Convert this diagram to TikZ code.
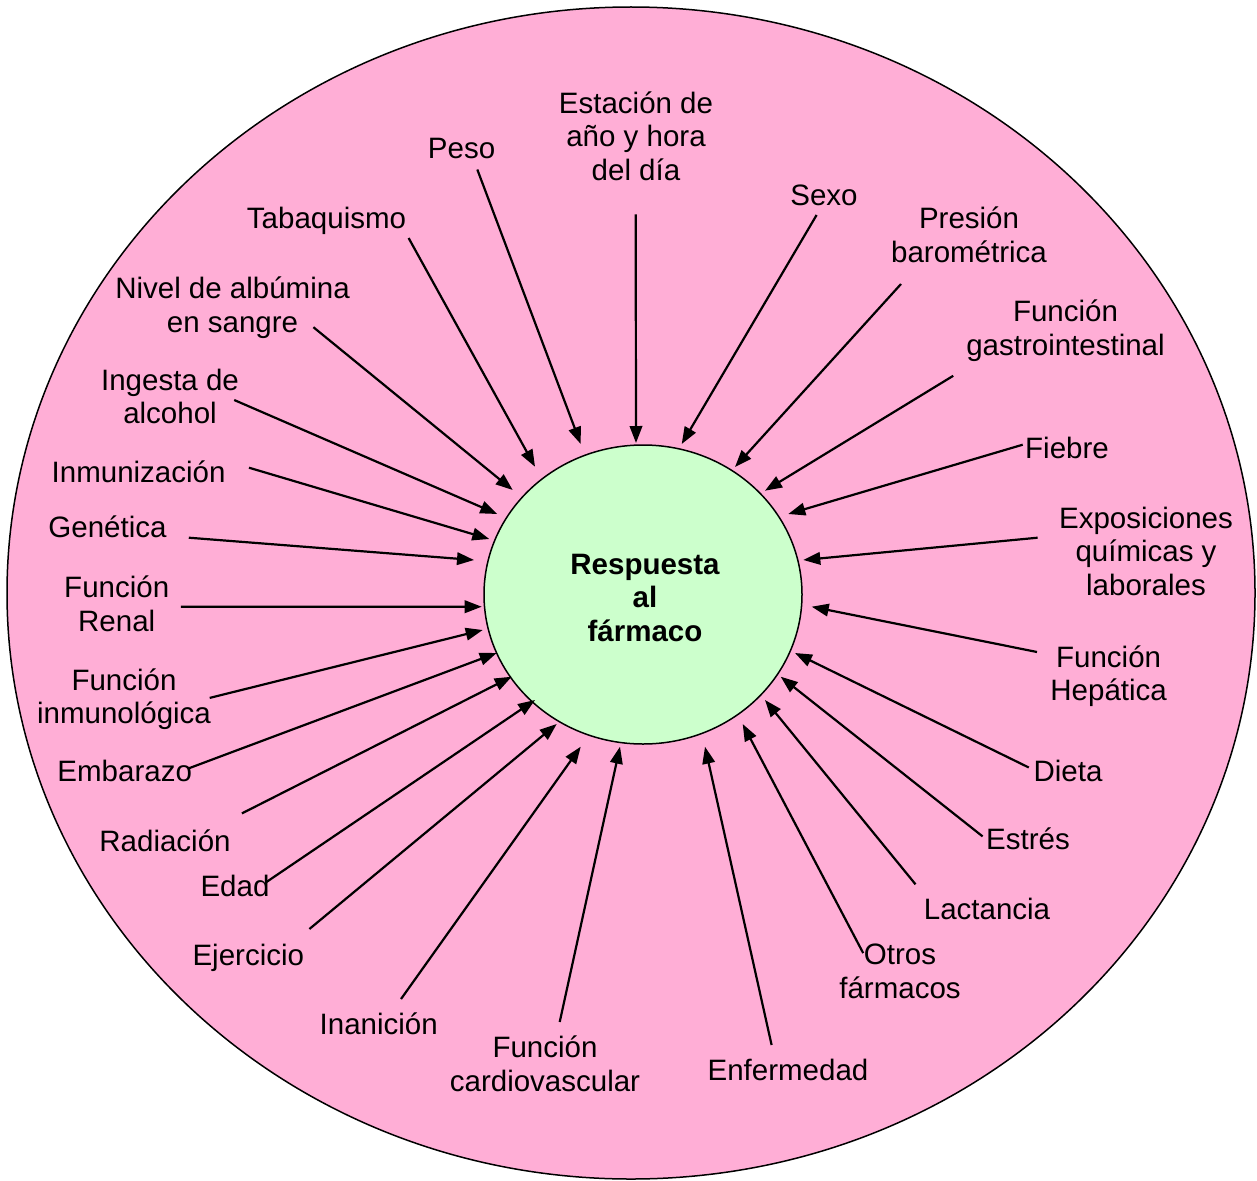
\documentclass[tikz,border=0pt]{standalone}
\usepackage{fontspec}
\setmainfont{Liberation Sans}
\usetikzlibrary{arrows.meta,shapes.geometric}
\definecolor{pinkbg}{RGB}{255,174,214}
\definecolor{greenc}{RGB}{204,255,204}
\begin{document}
\begin{tikzpicture}[x=1pt,y=-1pt,
  lab/.style={font=\fontsize{29.5}{33.5}\selectfont, align=center, anchor=base, inner sep=0pt},
  arr/.style={line width=2.2pt, -{Triangle[length=17pt,width=12.5pt]}},
  ring/.style={ellipse, draw, line width=1.5pt, inner sep=0pt}]
\useasboundingbox (0,0) rectangle (1257,1180);
\node[ring, fill=pinkbg, minimum width=1248pt, minimum height=1172pt] (outer) at (631,593) {};
\node[ring, fill=greenc, minimum width=318pt, minimum height=299pt] (resp) at (643,594.5) {};
% multi-line nodes: the base anchor lies on the last line
\node[lab, font=\fontsize{29.5}{33.5}\selectfont\bfseries] (resptext) at (645,641) {Respuesta\\al\\fármaco};

% labels
\node[lab] (estacion) at (636,180.3) {Estación de\\año y hora\\del día};
\node[lab] (peso) at (461.6,158.8) {Peso};
\node[lab] (tabaco) at (326.5,228.9) {Tabaquismo};
\node[lab] (albumina) at (232.5,332) {Nivel de albúmina\\en sangre};
\node[lab] (alcohol) at (170,423.5) {Ingesta de\\alcohol};
\node[lab] (inmuniz) at (138.6,482) {Inmunización};
\node[lab] (genetica) at (107.5,537.7) {Genética};
\node[lab] (renal) at (116.7,631) {Función\\Renal};
\node[lab] (inmunol) at (124,723.5) {Función\\inmunológica};
\node[lab] (embarazo) at (124.7,781.7) {Embarazo};
\node[lab] (radiacion) at (165,851) {Radiación};
\node[lab] (edad) at (235,896.9) {Edad};
\node[lab] (ejercicio) at (248.3,965.8) {Ejercicio};
\node[lab] (inanicion) at (378.7,1034.7) {Inanición};
\node[lab] (cardio) at (545,1091) {Función\\cardiovascular};
\node[lab] (sexo) at (824,205.5) {Sexo};
\node[lab] (presion) at (969,262) {Presión\\barométrica};
\node[lab] (gastro) at (1065.5,355) {Función\\gastrointestinal};
\node[lab] (fiebre) at (1067,458) {Fiebre};
\node[lab] (expos) at (1146,595) {Exposiciones\\químicas y\\laborales};
\node[lab] (hepatica) at (1108.6,700.5) {Función\\Hepática};
\node[lab] (dieta) at (1068,781) {Dieta};
\node[lab] (estres) at (1028,849.8) {Estrés};
\node[lab] (lactancia) at (987,919.5) {Lactancia};
\node[lab] (otros) at (900,998.1) {Otros\\fármacos};
\node[lab] (enfermedad) at (788,1080) {Enfermedad};

% connector ends
\coordinate (estacion-s) at (635.7,214.3);   \coordinate (estacion-e) at (636,443);
\coordinate (peso-s) at (477.3,169.5);       \coordinate (peso-e) at (580.7,444);
\coordinate (tabaco-s) at (408.6,238);       \coordinate (tabaco-e) at (535,466.7);
\coordinate (albumina-s) at (313.4,327.2);   \coordinate (albumina-e) at (512.7,490);
\coordinate (alcohol-s) at (234.2,400);      \coordinate (alcohol-e) at (497.3,514);
\coordinate (inmuniz-s) at (249,467.7);      \coordinate (inmuniz-e) at (489.3,539);
\coordinate (genetica-s) at (188.8,537.7);   \coordinate (genetica-e) at (474,560);
\coordinate (renal-s) at (180.8,606.8);      \coordinate (renal-e) at (481.7,606.7);
\coordinate (inmunol-s) at (209.7,697.9);    \coordinate (inmunol-e) at (482.7,630);
\coordinate (embarazo-s) at (188.8,768.3);   \coordinate (embarazo-e) at (496.7,653);
\coordinate (radiacion-s) at (241.9,813.4);  \coordinate (radiacion-e) at (511.7,676.7);
\coordinate (edad-s) at (266,882.3);         \coordinate (edad-e) at (535,700);
\coordinate (ejercicio-s) at (309.4,929);    \coordinate (ejercicio-e) at (556.7,724);
\coordinate (inanicion-s) at (401,999);      \coordinate (inanicion-e) at (580.7,746.7);
\coordinate (cardio-s) at (559.7,1022);      \coordinate (cardio-e) at (620,746.7);
\coordinate (sexo-s) at (816.6,215);         \coordinate (sexo-e) at (681.7,444);
\coordinate (presion-s) at (901,284);        \coordinate (presion-e) at (735,467);
\coordinate (gastro-s) at (953.2,375.8);     \coordinate (gastro-e) at (765,490.7);
\coordinate (fiebre-s) at (1022.7,444.7);    \coordinate (fiebre-e) at (788.3,514);
\coordinate (expos-s) at (1037.6,537.7);     \coordinate (expos-e) at (803.3,560);
\coordinate (hepatica-s) at (1037,652);      \coordinate (hepatica-e) at (811.7,606.7);
\coordinate (dieta-s) at (1028.8,767.5);     \coordinate (dieta-e) at (795,653);
\coordinate (estres-s) at (982.6,836.4);     \coordinate (estres-e) at (780.7,676.7);
\coordinate (lactancia-s) at (915.5,884.3);  \coordinate (lactancia-e) at (765,700);
\coordinate (otros-s) at (863.2,953.1);      \coordinate (otros-e) at (742.7,724);
\coordinate (enfermedad-s) at (771.6,1045);  \coordinate (enfermedad-e) at (705,746.7);

\foreach \n in {estacion,peso,tabaco,albumina,alcohol,inmuniz,genetica,renal,inmunol,embarazo,radiacion,edad,ejercicio,inanicion,cardio,sexo,presion,gastro,fiebre,expos,hepatica,dieta,estres,lactancia,otros,enfermedad}
  \draw[arr] (\n-s) -- (\n-e);
\end{tikzpicture}
\end{document}
